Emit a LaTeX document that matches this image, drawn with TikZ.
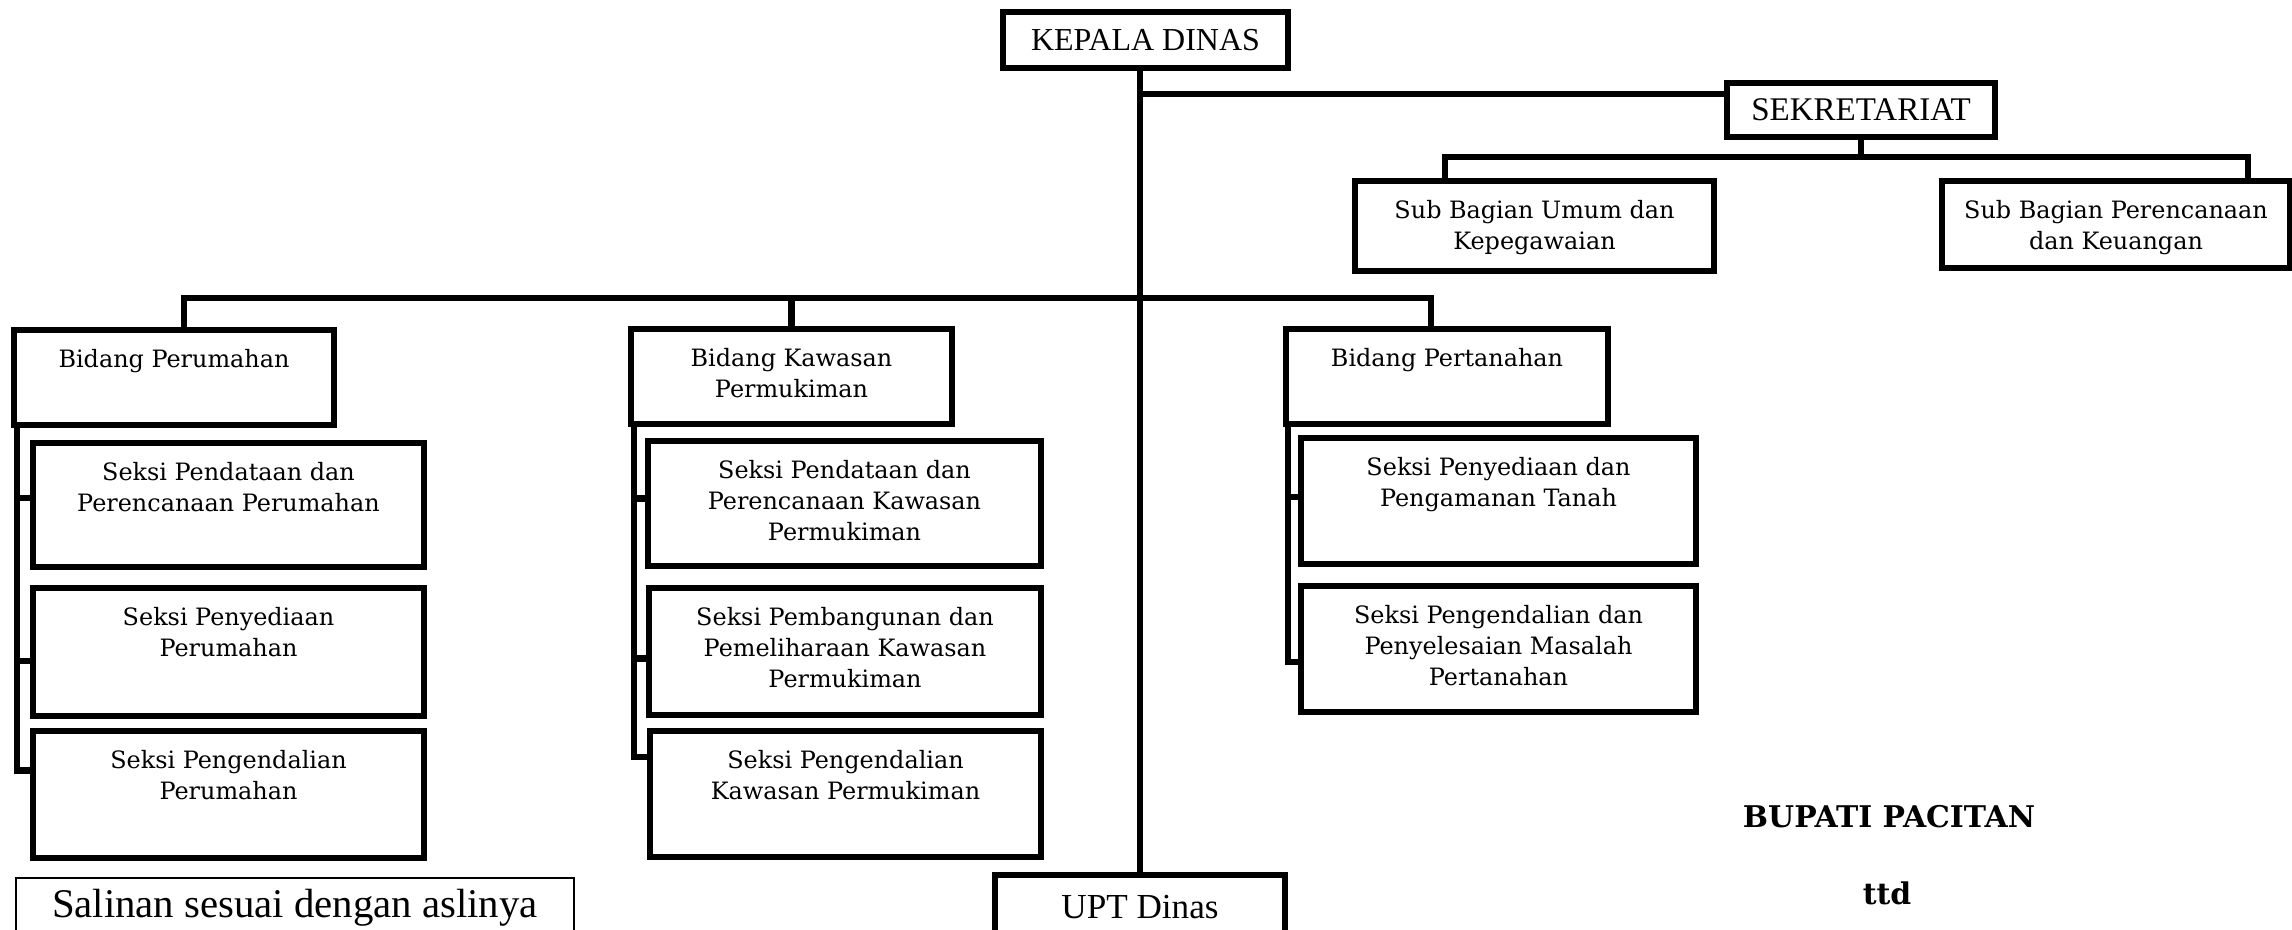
\documentclass[tikz,border=0pt]{standalone}
\usepackage{fontspec}
\setmainfont{Liberation Serif}
\newfontfamily\bookman{DejaVu Serif}

\tikzset{
    unit/.style={draw, line width=1.8pt, anchor=north west, inner sep=0pt, outer sep=0pt},
    conn/.style={line width=1.8pt},
    caption/.style={font=\bookman\fontsize{6.8}{8.8}\selectfont, align=center, anchor=north, inner sep=0pt, yshift=-1.9mm},
}

\begin{document}
\begin{tikzpicture}[x=0.1mm, y=-0.1mm]
    \useasboundingbox (0,0) rectangle (2292,930);
    \clip (0,0) rectangle (2292,930);

    % pimpinan dan sekretariat
    \node [unit, minimum width=28.5mm, minimum height=5.6mm, font=\fontsize{9.1}{10}\selectfont] (kadis) at (1003,12) {KEPALA DINAS};
    \node [unit, minimum width=26.8mm, minimum height=5.4mm, font=\fontsize{9.4}{10}\selectfont] (sek) at (1727,83) {SEKRETARIAT};
    \node [unit, minimum width=35.9mm, minimum height=9.0mm, label={[caption]north:{Sub Bagian Umum dan\\Kepegawaian}}] (sbumum) at (1355,181) {};
    \node [unit, minimum width=34.8mm, minimum height=8.7mm, label={[caption]north:{Sub Bagian Perencanaan\\dan Keuangan}}] (sbren) at (1942,181) {};

    % bidang
    \node [unit, minimum width=32.0mm, minimum height=9.5mm, label={[caption]north:{Bidang Perumahan}}] (bperum) at (14,330) {};
    \node [unit, minimum width=32.1mm, minimum height=9.5mm, label={[caption]north:{Bidang Kawasan\\Permukiman}}] (bkaw) at (631,329) {};
    \node [unit, minimum width=32.2mm, minimum height=9.5mm, label={[caption]north:{Bidang Pertanahan}}] (bpert) at (1286,329) {};

    % seksi
    \node [unit, minimum width=39.1mm, minimum height=12.4mm, label={[caption]north:{Seksi Pendataan dan\\Perencanaan Perumahan}}] (s11) at (33,443) {};
    \node [unit, minimum width=39.1mm, minimum height=12.8mm, label={[caption]north:{Seksi Penyediaan\\Perumahan}}] (s12) at (33,588) {};
    \node [unit, minimum width=39.1mm, minimum height=12.7mm, label={[caption]north:{Seksi Pengendalian\\Perumahan}}] (s13) at (33,731) {};
    \node [unit, minimum width=39.3mm, minimum height=12.5mm, label={[caption]north:{Seksi Pendataan dan\\Perencanaan Kawasan\\Permukiman}}] (s21) at (648,441) {};
    \node [unit, minimum width=39.2mm, minimum height=12.7mm, label={[caption]north:{Seksi Pembangunan dan\\Pemeliharaan Kawasan\\Permukiman}}] (s22) at (649,588) {};
    \node [unit, minimum width=39.1mm, minimum height=12.6mm, label={[caption]north:{Seksi Pengendalian\\Kawasan Permukiman}}] (s23) at (650,731) {};
    \node [unit, minimum width=39.5mm, minimum height=12.6mm, label={[caption]north:{Seksi Penyediaan dan\\Pengamanan Tanah}}] (s31) at (1301,438) {};
    \node [unit, minimum width=39.5mm, minimum height=12.6mm, label={[caption]north:{Seksi Pengendalian dan\\Penyelesaian Masalah\\Pertanahan}}] (s32) at (1301,586) {};

    % upt
    \node [unit, minimum width=29.0mm, minimum height=6.4mm, font=\fontsize{10}{11}\selectfont] (upt) at (995,875) {UPT Dinas};

    % garis
    \draw [conn] (upt.north) -- (upt.north |- kadis.south);
    \coordinate (sekin) at ([yshift=1.6mm]sek.west);
    \draw [conn] (sekin) -- (upt.north |- sekin);
    \draw [conn] (sek.south) -- ++(0,20);
    \draw [conn] ([xshift=9mm]sbumum.north west) -- ++(0,-24) -| ([xshift=30.6mm]sbren.north west);
    \draw [conn] ([xshift=1mm]bperum.north) -- ++(0,-32) -| ([xshift=-1.6mm]bpert.north);
    \draw [conn] (bkaw.north) -- ++(0,-31);

    \draw [conn] ([xshift=0.3mm]bperum.south west) |- ([yshift=2.4mm]s13.west);
    \draw [conn] ([yshift=0.7mm]s11.west) -- ++(-16,0);
    \draw [conn] ([yshift=-0.9mm]s12.west) -- ++(-16,0);

    \draw [conn] ([xshift=0.3mm]bkaw.south west) |- ([yshift=3.7mm]s23.west);
    \draw [conn] ([yshift=0.5mm]s21.west) -- ++(-14,0);
    \draw [conn] ([yshift=-0.7mm]s22.west) -- ++(-14,0);

    \draw [conn] ([xshift=0.2mm]bpert.south west) |- ([yshift=-1.3mm]s32.west);
    \draw [conn] ([yshift=0.4mm]s31.west) -- ++(-13,0);

    % pengesahan
    \node [draw, line width=0.5pt, anchor=north west, inner sep=0pt, minimum width=55.8mm, minimum height=6mm, font=\fontsize{11.6}{13}\selectfont] (salinan) at (15,877) {Salinan sesuai dengan aslinya};
    \node [font=\bookman\bfseries\fontsize{8.5}{9}\selectfont] (bupati) at (1889,817) {BUPATI PACITAN};
    \node [font=\bookman\bfseries\fontsize{8.5}{9}\selectfont] (ttd) at (1887,893) {ttd};
\end{tikzpicture}
\end{document}
